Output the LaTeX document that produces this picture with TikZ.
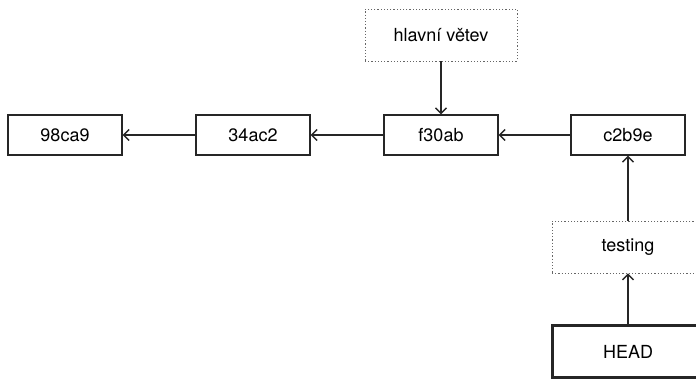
\documentclass[tikz,border=0pt]{standalone}
\usepackage{fontspec}
\setmainfont{TeX Gyre Heros}
\usetikzlibrary{arrows.meta}
\tikzset{
    every node/.style={draw, line width=1.2pt, draw=black!85, font=\fontsize{18}{21}\selectfont,
    	inner sep=0pt}
}
\tikzset{
    commit/.style={minimum width=114pt, minimum height=40pt}
}
\tikzset{
    branch/.style={dotted, line width=0.6pt, draw=black!60, minimum width=152pt, minimum height=52pt}
}
\tikzset{
    ptr/.style={line width=1.4pt, draw=black!85, -{Straight Barb[length=5.5pt, width=11pt]}}
}

\begin{document}
\begin{tikzpicture}[x=1pt, y=1pt]
	\clip (0,0) rectangle (696,379);
	\node [commit] (c1) at (65,244) {98ca9};
	\node [commit] (c2) at (253,244) {34ac2};
	\node [commit] (c3) at (441,244) {f30ab};
	\node [commit] (c4) at (628,244) {c2b9e};
	\node [branch] (master) at (441,344) {hlavní větev};
	\node [branch] (testing) at (628,132) {testing};
	\node [commit, line width=3pt, minimum width=152pt, minimum height=52pt] (head) at (628,27) {HEAD};
	\draw [ptr] (c2) -- (c1); \draw [ptr] (c3) -- (c2); \draw [ptr] (c4) -- (c3);
	\draw [ptr] (master) -- (c3); \draw [ptr] (testing) -- (c4);
	\draw [ptr] (head) -- (testing);
\end{tikzpicture}
\end{document}
